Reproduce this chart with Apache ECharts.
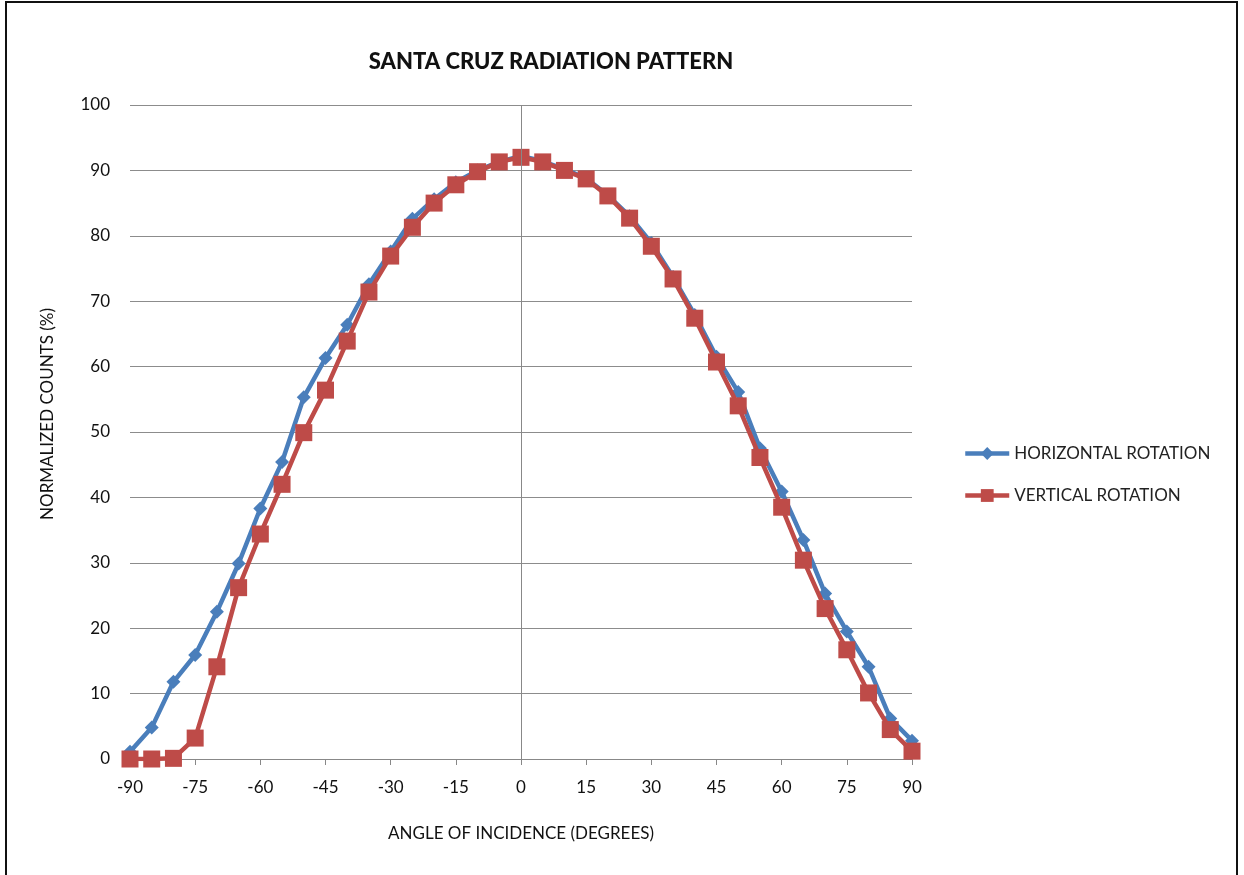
<!DOCTYPE html>
<html>
<head>
<meta charset="utf-8">
<script src="https://cdn.jsdelivr.net/npm/echarts@6/dist/echarts.min.js"></script>
<style>
html,body{margin:0;padding:0;background:#fff;}
#frame{position:absolute;left:5px;top:1px;width:1233px;height:880px;border-left:2px solid #111;border-top:2px solid #111;border-right:2px solid #111;box-sizing:border-box;}
#chart{position:absolute;left:0;top:0;width:1244px;height:875px;}
</style>
</head>
<body>
<div id="frame"></div>
<div id="chart"></div>
<script>
const angles = [-90,-85,-80,-75,-70,-65,-60,-55,-50,-45,-40,-35,-30,-25,-20,-15,-10,-5,0,5,10,15,20,25,30,35,40,45,50,55,60,65,70,75,80,85,90];
const horizontal = [1.1,4.8,11.8,15.9,22.5,29.9,38.3,45.4,55.3,61.3,66.4,72.6,77.6,82.6,85.6,88.2,90.0,91.3,92.2,91.4,90.2,88.8,86.2,83.0,78.9,73.7,67.9,61.5,56.1,47.5,40.9,33.5,25.3,19.5,14.1,6.2,2.8];
const vertical = [0,0,0.1,3.2,14.1,26.2,34.4,42.0,49.9,56.4,63.9,71.4,76.9,81.3,85.0,87.8,89.8,91.3,92.0,91.3,90.0,88.7,86.1,82.7,78.4,73.4,67.4,60.7,54.0,46.1,38.5,30.4,23.0,16.7,10.1,4.5,1.2];
const seriesNames = ['HORIZONTAL ROTATION','VERTICAL ROTATION'];
const titleText = 'SANTA CRUZ RADIATION PATTERN';
const xAxisName = 'ANGLE OF INCIDENCE (DEGREES)';
const yAxisName = 'NORMALIZED COUNTS (%)';

const FONT = 'Lato, "Open Sans", sans-serif';
const chart = echarts.init(document.getElementById('chart'));
chart.setOption({
  backgroundColor: 'transparent',
  animation: false,
  title: {
    text: titleText, left: 546, top: 46, textAlign: 'center',
    textStyle: {fontFamily: FONT, fontSize: 22, fontWeight: 900, color: '#111'}
  },
  legend: {
    orient: 'vertical', left: 958, top: 440, itemGap: 25, itemWidth: 44, itemHeight: 16,
    lineStyle: {width: 4.5},
    textStyle: {fontFamily: FONT, fontSize: 17, color: '#222'},
    data: seriesNames
  },
  grid: {left: 130, right: 332, top: 105, bottom: 116},
  xAxis: {
    type: 'value', min: -90, max: 90, interval: 15,
    name: xAxisName, nameLocation: 'middle', nameGap: 66,
    nameTextStyle: {fontFamily: FONT, fontSize: 17, color: '#111'},
    axisLine: {onZero: false, lineStyle: {color: '#888', width: 1}},
    axisTick: {show: true, length: 6, lineStyle: {color: '#888'}},
    axisLabel: {fontFamily: FONT, fontSize: 17, color: '#111', margin: 20},
    splitLine: {show: false}
  },
  yAxis: {
    type: 'value', min: 0, max: 100, interval: 10,
    name: yAxisName, nameLocation: 'middle', nameGap: 74, nameRotate: 90,
    nameTextStyle: {fontFamily: FONT, fontSize: 17, color: '#111', padding: [0, 0, 0, 36]},
    axisLine: {show: false},
    axisTick: {show: false},
    axisLabel: {fontFamily: FONT, fontSize: 17, color: '#111', margin: 20},
    splitLine: {show: true, lineStyle: {color: '#8c8c8c', width: 1}}
  },
  series: [
    {
      name: seriesNames[0], type: 'line',
      data: angles.map((a, i) => [a, horizontal[i]]),
      symbol: 'diamond', symbolSize: 14,
      lineStyle: {color: '#4a7ebb', width: 4.5},
      itemStyle: {color: '#4a7ebb'},
      z: 2,
      markLine: {
        silent: true, symbol: 'none', label: {show: false},
        lineStyle: {color: '#888', width: 1, type: 'solid'},
        data: [{xAxis: 0}]
      }
    },
    {
      name: seriesNames[1], type: 'line',
      data: angles.map((a, i) => [a, vertical[i]]),
      symbol: 'rect', symbolSize: 17,
      lineStyle: {color: '#be4b48', width: 4.5},
      itemStyle: {color: '#be4b48'},
      z: 3
    }
  ]
});
</script>
</body>
</html>
